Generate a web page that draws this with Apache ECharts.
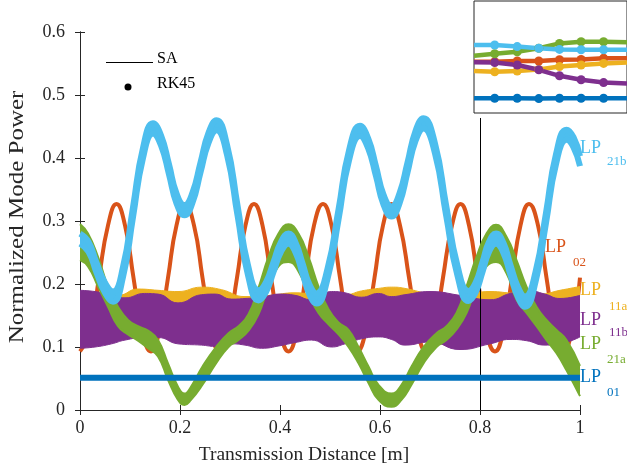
<!DOCTYPE html>
<html>
<head>
<meta charset="utf-8">
<script src="https://cdn.jsdelivr.net/npm/echarts@6/dist/echarts.min.js"></script>
<style>
html, body { margin: 0; padding: 0; background: #fff; }
#chart { width: 627px; height: 472px; }
</style>
</head>
<body>
<div id="chart"></div>
<script>
// LP21b : band (lower / upper envelope)
var lp21bX  = [0, 0.017, 0.033, 0.050, 0.066, 0.086, 0.106, 0.126, 0.146, 0.162, 0.178, 0.193, 0.209, 0.225, 0.241, 0.257, 0.273, 0.294, 0.315, 0.336,
               0.357, 0.372, 0.387, 0.402, 0.417, 0.431, 0.445, 0.459, 0.473, 0.495, 0.517, 0.538, 0.560, 0.576, 0.592, 0.607, 0.623, 0.639, 0.655, 0.671,
               0.687, 0.710, 0.732, 0.755, 0.777, 0.791, 0.805, 0.818, 0.832, 0.847, 0.861, 0.876, 0.890, 0.911, 0.932, 0.952, 0.973, 0.987, 1.000];
var lp21bLo = [0.264, 0.251, 0.218, 0.186, 0.172, 0.211, 0.306, 0.400, 0.439, 0.420, 0.374, 0.328, 0.309, 0.329, 0.377, 0.424, 0.444, 0.405, 0.309, 0.214,
               0.174, 0.187, 0.219, 0.251, 0.264, 0.250, 0.217, 0.183, 0.169, 0.208, 0.302, 0.396, 0.435, 0.416, 0.371, 0.326, 0.307, 0.328, 0.377, 0.427,
               0.447, 0.407, 0.310, 0.213, 0.173, 0.186, 0.219, 0.251, 0.264, 0.249, 0.214, 0.179, 0.164, 0.203, 0.297, 0.390, 0.429, 0.417, 0.387];
var lp21bHi = [0.280, 0.267, 0.234, 0.202, 0.188, 0.227, 0.322, 0.416, 0.455, 0.436, 0.390, 0.344, 0.325, 0.345, 0.393, 0.440, 0.460, 0.421, 0.325, 0.230,
               0.190, 0.203, 0.235, 0.267, 0.280, 0.266, 0.233, 0.199, 0.185, 0.224, 0.318, 0.412, 0.451, 0.432, 0.387, 0.342, 0.323, 0.344, 0.393, 0.443,
               0.463, 0.423, 0.326, 0.229, 0.189, 0.202, 0.235, 0.267, 0.280, 0.265, 0.230, 0.195, 0.180, 0.219, 0.313, 0.406, 0.445, 0.433, 0.403];

// LP02 : thin line
var lp02X = [0, 0.021, 0.038, 0.056, 0.073, 0.090, 0.107, 0.124, 0.142, 0.159, 0.176, 0.193, 0.210, 0.228, 0.245, 0.262, 0.279, 0.296, 0.314, 0.331,
             0.348, 0.365, 0.382, 0.400, 0.417, 0.434, 0.451, 0.468, 0.486, 0.503, 0.520, 0.537, 0.554, 0.572, 0.589, 0.606, 0.623, 0.640, 0.658, 0.675,
             0.692, 0.709, 0.726, 0.744, 0.761, 0.778, 0.795, 0.812, 0.830, 0.847, 0.864, 0.881, 0.898, 0.916, 0.933, 0.950, 0.967, 0.984, 1.000];
var lp02Y = [0.093, 0.127, 0.210, 0.293, 0.327, 0.293, 0.210, 0.127, 0.093, 0.127, 0.210, 0.293, 0.327, 0.293, 0.210, 0.127, 0.093, 0.127, 0.210, 0.293,
             0.327, 0.293, 0.210, 0.127, 0.093, 0.127, 0.210, 0.293, 0.327, 0.293, 0.210, 0.127, 0.093, 0.127, 0.210, 0.293, 0.327, 0.293, 0.210, 0.127,
             0.093, 0.127, 0.210, 0.293, 0.327, 0.293, 0.210, 0.127, 0.093, 0.127, 0.210, 0.293, 0.327, 0.293, 0.210, 0.127, 0.093, 0.127, 0.210];

// LP11a : band
var lp11aX  = [0, 0.040, 0.076, 0.116, 0.156, 0.196, 0.243, 0.283, 0.330, 0.380, 0.430, 0.480, 0.530, 0.563, 0.597, 0.623, 0.650, 0.693, 0.727, 0.770, 0.820, 0.870, 0.920, 0.960, 1.000];
var lp11aLo = [0.155, 0.153, 0.152, 0.162, 0.160, 0.158, 0.165, 0.161, 0.150, 0.152, 0.156, 0.153, 0.153, 0.159, 0.163, 0.165, 0.163, 0.155, 0.150, 0.153, 0.158, 0.155, 0.154, 0.160, 0.166];
var lp11aHi = [0.183, 0.183, 0.182, 0.192, 0.190, 0.188, 0.195, 0.191, 0.180, 0.182, 0.186, 0.183, 0.183, 0.189, 0.193, 0.195, 0.193, 0.185, 0.180, 0.183, 0.188, 0.185, 0.184, 0.190, 0.196];

// LP11b : wide band
var lp11bX  = [0, 0.030, 0.063, 0.090, 0.129, 0.156, 0.196, 0.243, 0.270, 0.303, 0.330, 0.363, 0.400, 0.430, 0.463, 0.503, 0.530, 0.563, 0.597, 0.623, 0.650, 0.700, 0.760, 0.820, 0.860, 0.893, 0.930, 0.960, 1.000];
var lp11bLo = [0.098, 0.100, 0.105, 0.111, 0.115, 0.115, 0.105, 0.103, 0.101, 0.105, 0.103, 0.098, 0.102, 0.107, 0.111, 0.100, 0.105, 0.113, 0.116, 0.112, 0.103, 0.108, 0.096, 0.105, 0.112, 0.110, 0.103, 0.105, 0.116];
var lp11bHi = [0.190, 0.188, 0.183, 0.178, 0.185, 0.184, 0.170, 0.183, 0.184, 0.176, 0.177, 0.179, 0.184, 0.182, 0.175, 0.188, 0.186, 0.179, 0.185, 0.180, 0.183, 0.188, 0.182, 0.175, 0.185, 0.190, 0.184, 0.177, 0.182];

// LP21a : band
var lp21aX  = [0, 0.016, 0.036, 0.056, 0.076, 0.096, 0.116, 0.136, 0.156, 0.176, 0.196, 0.209, 0.222, 0.245, 0.272, 0.297, 0.317, 0.337, 0.357, 0.377,
               0.397, 0.417, 0.437, 0.457, 0.477, 0.497, 0.517, 0.537, 0.557, 0.577, 0.597, 0.623, 0.643, 0.663, 0.687, 0.713, 0.733, 0.753, 0.773, 0.793,
               0.813, 0.832, 0.853, 0.873, 0.893, 0.913, 0.933, 0.953, 0.973, 1.000];
var lp21aLo = [0.238, 0.228, 0.196, 0.164, 0.133, 0.120, 0.110, 0.098, 0.085, 0.048, 0.016, 0.008, 0.016, 0.040, 0.074, 0.100, 0.111, 0.126, 0.152, 0.196,
               0.228, 0.235, 0.220, 0.183, 0.154, 0.136, 0.120, 0.100, 0.074, 0.043, 0.016, 0.005, 0.016, 0.040, 0.074, 0.100, 0.111, 0.128, 0.154, 0.196,
               0.228, 0.235, 0.217, 0.175, 0.154, 0.133, 0.111, 0.090, 0.063, 0.022];
var lp21aHi = [0.295, 0.280, 0.243, 0.196, 0.164, 0.143, 0.133, 0.126, 0.111, 0.074, 0.037, 0.026, 0.037, 0.069, 0.100, 0.122, 0.133, 0.152, 0.194, 0.243,
               0.280, 0.295, 0.280, 0.243, 0.196, 0.160, 0.139, 0.127, 0.100, 0.069, 0.040, 0.026, 0.040, 0.069, 0.100, 0.122, 0.133, 0.154, 0.196, 0.243,
               0.280, 0.294, 0.275, 0.238, 0.196, 0.164, 0.143, 0.127, 0.111, 0.070];

// LP01 : flat line
var lp01X = [0, 0.2, 0.4, 0.6, 0.8, 1];
var lp01Y = [0.051, 0.051, 0.051, 0.051, 0.051, 0.051];

// inset (zoomed window, RK45 markers)
var insetX     = [0.7994, 0.8017, 0.8042, 0.8066, 0.8089, 0.8113, 0.8138, 0.8164];
var insetLp21b = [0.170, 0.170, 0.166, 0.162, 0.159, 0.158, 0.158, 0.158];
var insetLp21a = [0.143, 0.148, 0.153, 0.162, 0.174, 0.178, 0.178, 0.177];
var insetLp02  = [0.128, 0.128, 0.130, 0.130, 0.133, 0.134, 0.137, 0.137];
var insetLp11b = [0.127, 0.126, 0.120, 0.108, 0.093, 0.083, 0.076, 0.074];
var insetLp11a = [0.105, 0.103, 0.105, 0.109, 0.116, 0.120, 0.124, 0.126];
var insetLp01  = [0.037, 0.037, 0.037, 0.036, 0.037, 0.037, 0.037, 0.037];

var zoomAt = 0.8;

var C01 = '#0072BD', C02 = '#D95319', C11a = '#EDB120', C11b = '#7E2F8E', C21a = '#77AC30', C21b = '#4DBEEE';
var FONT = '"Liberation Serif", "Times New Roman", serif';
var AX = '#262626';

function pairs(xs, ys) {
    return xs.map(function (x, i) { return [x, ys[i]]; });
}

// band = lower line + stacked (hi - lo) area.
// values go first in each item so the stack runs on y, not on x.
function band(name, xs, lo, hi, color, z, edge) {
    var base = xs.map(function (x, i) { return [lo[i], x]; });
    var diff = xs.map(function (x, i) { return [+(hi[i] - lo[i]).toFixed(4), x]; });
    return [{
        name: name + '_lo', type: 'line', stack: name, data: base, encode: { x: 1, y: 0 },
        smooth: 0.5, symbol: 'none', silent: true, z: z,
        lineStyle: { width: edge, color: color }
    }, {
        name: name, type: 'line', stack: name, data: diff, encode: { x: 1, y: 0 },
        smooth: 0.5, symbol: 'none', silent: true, z: z,
        lineStyle: { width: edge, color: color },
        areaStyle: { color: color, opacity: 1 }
    }];
}

function insetLine(ys, color) {
    var last = insetX.length - 1;
    return {
        type: 'line', xAxisIndex: 2, yAxisIndex: 2, z: 12, silent: true,
        data: insetX.map(function (x, i) {
            var d = { value: [x, ys[i]] };
            if (i === 0 || i === last) d.symbol = 'none';
            return d;
        }),
        symbol: 'circle', symbolSize: 9,
        itemStyle: { color: color },
        lineStyle: { color: color, width: 4.5 }
    };
}

var series = [];
series.push({
    name: 'LP02', type: 'line', data: pairs(lp02X, lp02Y), smooth: 0.5, symbol: 'none', silent: true, z: 2,
    lineStyle: { color: C02, width: 4 }
});
series = series.concat(band('LP11a', lp11aX, lp11aLo, lp11aHi, C11a, 3, 1));
series = series.concat(band('LP11b', lp11bX, lp11bLo, lp11bHi, C11b, 4, 1));
series = series.concat(band('LP21a', lp21aX, lp21aLo, lp21aHi, C21a, 5, 2));
series.push({
    name: 'LP01', type: 'line', data: pairs(lp01X, lp01Y), symbol: 'none', silent: true, z: 6,
    lineStyle: { color: C01, width: 6 }
});
series = series.concat(band('LP21b', lp21bX, lp21bLo, lp21bHi, C21b, 7, 6));
series.push({
    name: 'zoomline', type: 'line', data: [], z: 8, silent: true,
    markLine: {
        silent: true, symbol: 'none', label: { show: false },
        lineStyle: { color: '#000', width: 1, type: 'solid' },
        data: [[{ coord: [zoomAt, 0] }, { coord: [zoomAt, 0.4635] }]]
    }
});
series.push(insetLine(insetLp02, C02));
series.push(insetLine(insetLp11a, C11a));
series.push(insetLine(insetLp11b, C11b));
series.push(insetLine(insetLp21a, C21a));
series.push(insetLine(insetLp21b, C21b));
series.push(insetLine(insetLp01, C01));

var tickStyle = { inside: true, length: 5, lineStyle: { color: AX } };
var lineStyleAx = { lineStyle: { color: AX, width: 1 } };

// right-hand mode labels: [sub, color, x, yLP, xSub, ySub]
var modeLabels = [
    ['21b', C21b, 580, 148, 607, 162],
    ['02',  C02,  545, 247, 573, 263],
    ['11a', C11a, 580, 290, 609, 307],
    ['11b', C11b, 580, 320, 609, 333],
    ['21a', C21a, 580, 344, 607, 360],
    ['01',  C01,  580, 377, 607, 393]
];
var graphics = [
    { type: 'line', shape: { x1: 106, y1: 62.5, x2: 153, y2: 62.5 }, style: { stroke: '#000', lineWidth: 1 }, z: 20 },
    { type: 'text', x: 157, y: 58.5, style: { text: 'SA', font: '16px ' + FONT, fill: '#000', verticalAlign: 'middle' }, z: 20 },
    { type: 'circle', shape: { cx: 128, cy: 87, r: 3.5 }, style: { fill: '#000' }, z: 20 },
    { type: 'text', x: 157, y: 84, style: { text: 'RK45', font: '16px ' + FONT, fill: '#000', verticalAlign: 'middle' }, z: 20 },
    // y-axis title, drawn a little stretched along its length like the reference
    { type: 'text', x: 18, y: 217, rotation: Math.PI / 2, scaleX: 1.25, z: 20,
      style: { text: 'Normalized Mode Power', font: '20px ' + FONT, fill: AX, align: 'center', verticalAlign: 'middle' } }
];
modeLabels.forEach(function (m) {
    graphics.push({ type: 'text', x: m[2], y: m[3], z: 20,
        style: { text: 'LP', font: '18px ' + FONT, fill: m[1], verticalAlign: 'middle' } });
    graphics.push({ type: 'text', x: m[4], y: m[5], z: 20,
        style: { text: m[0], font: '13px ' + FONT, fill: m[1], verticalAlign: 'middle' } });
});

var option = {
    animation: false,
    backgroundColor: '#fff',
    grid: [
        { left: 80, top: 32, width: 500, height: 378 },
        { left: 474, top: 1, width: 170, height: 112, show: true, backgroundColor: '#fff', borderColor: AX, borderWidth: 1, z: 10 }
    ],
    xAxis: [{
        gridIndex: 0, type: 'value', min: 0, max: 1, interval: 0.2, position: 'bottom',
        axisLine: lineStyleAx, axisTick: tickStyle, splitLine: { show: false },
        axisLabel: { margin: 9, fontFamily: FONT, fontSize: 18, color: AX },
        name: 'Transmission Distance [m]', nameLocation: 'middle', nameGap: 35,
        nameTextStyle: { fontFamily: FONT, fontSize: 19.5, color: AX, padding: [0, 52, 0, 0] }
    }, {
        gridIndex: 0, type: 'value', min: 0, max: 1, interval: 0.2, position: 'top',
        axisLine: lineStyleAx, axisTick: tickStyle, splitLine: { show: false }, axisLabel: { show: false }
    }, {
        gridIndex: 1, type: 'value', min: insetX[0], max: insetX[insetX.length - 1], show: false
    }],
    yAxis: [{
        gridIndex: 0, type: 'value', min: 0, max: 0.6, interval: 0.1, position: 'left',
        axisLine: lineStyleAx, axisTick: tickStyle, splitLine: { show: false },
        axisLabel: { margin: 15, fontFamily: FONT, fontSize: 18, color: AX, padding: [0, 0, 4, 0] }
    }, {
        gridIndex: 0, type: 'value', min: 0, max: 0.6, interval: 0.1, position: 'right',
        axisLine: lineStyleAx, axisTick: tickStyle, splitLine: { show: false }, axisLabel: { show: false }
    }, {
        gridIndex: 1, type: 'value', min: 0, max: 0.28, show: false
    }],
    graphic: graphics,
    series: series
};

var chart = echarts.init(document.getElementById('chart'));
chart.setOption(option);
</script>
</body>
</html>
